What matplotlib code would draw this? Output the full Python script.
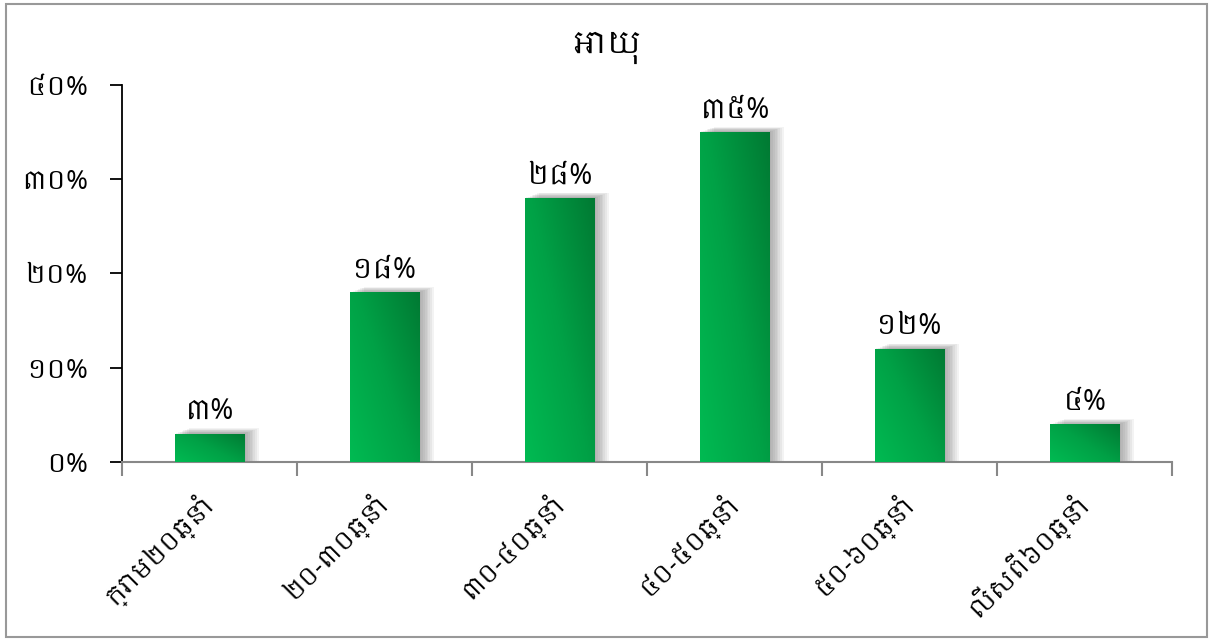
import numpy as np
import matplotlib
matplotlib.use("Agg")
import matplotlib.pyplot as plt
from matplotlib import font_manager
from matplotlib.patches import Rectangle
import matplotlib.colors as mcolors

categories = ["ក្រោម២០ឆ្នាំ", "២០-៣០ឆ្នាំ", "៣០-៤០ឆ្នាំ", "៤០-៥០ឆ្នាំ", "៥០-៦០ឆ្នាំ", "លើសពី៦០ឆ្នាំ"]
values = [3, 18, 28, 35, 12, 4]
value_labels = ["៣%", "១៨%", "២៨%", "៣៥%", "១២%", "៤%"]
yticks = [0, 10, 20, 30, 40]
ytick_labels = ["០%", "១០%", "២០%", "៣០%", "៤០%"]
title = "អាយុ"

# pick any installed Khmer font, fall back to DejaVu
khmer = [f.name for f in font_manager.fontManager.ttflist if "khmer" in f.name.lower()]
families = list(dict.fromkeys(khmer)) + ["DejaVu Sans"]
plt.rcParams["font.family"] = families

fig = plt.figure(figsize=(12.13, 6.41), dpi=100)
ax = fig.add_axes([0.1006, 0.2793, 0.8656, 0.5881])

x = np.arange(len(categories))
width = 0.4

# soft shadow: stacked translucent gray bars
for k in range(1, 9):
    ax.bar(x + 0.01 * k, np.array(values) + 0.07 * k, width=width, color="#555555",
           alpha=0.07, zorder=1, linewidth=0)

bars = ax.bar(x, values, width=width, color="#00A84C", zorder=2, linewidth=0)

# diagonal gradient fill clipped to each bar
cmap = mcolors.LinearSegmentedColormap.from_list("g", ["#00BA52", "#00A146", "#007A33"])
gx, gy = np.meshgrid(np.linspace(0, 1, 50), np.linspace(0, 1, 50))
grad = 0.55 * gx + 0.45 * gy
for b in bars:
    im = ax.imshow(grad, cmap=cmap, origin="lower", aspect="auto", zorder=3,
                   extent=(b.get_x(), b.get_x() + b.get_width(), 0, b.get_height()))
    im.set_clip_path(b)

for xi, v, lab in zip(x, values, value_labels):
    ax.text(xi, v + 0.9, lab, ha="center", va="bottom", fontsize=20, zorder=4)

ax.set_xlim(-0.5, len(categories) - 0.5)
ax.set_ylim(0, 40)
ax.set_yticks(yticks)
ax.set_yticklabels(ytick_labels, fontsize=19)
ax.set_xticks(x)
ax.set_xticklabels(categories, rotation=45, ha="right", va="center",
                   rotation_mode="anchor", fontsize=18)
ax.tick_params(axis="x", length=0, pad=26)
ax.set_xticks(np.arange(-0.5, len(categories)), minor=True)
ax.tick_params(axis="x", which="minor", length=10, color="#888888", width=1.5)
ax.tick_params(axis="y", length=8.5, width=1.3, pad=16)

for s in ["top", "right"]:
    ax.spines[s].set_visible(False)
ax.spines["left"].set_linewidth(1.3)
ax.spines["bottom"].set_color("#888888")
ax.spines["bottom"].set_linewidth(1.5)

fig.text(0.5, 0.925, title, ha="center", va="center", fontsize=22, fontweight="bold")

fig.patches.append(Rectangle((0.005, 0.006), 0.99, 0.988, transform=fig.transFigure,
                             fill=False, edgecolor="#999999", linewidth=1.5))

fig.savefig("out.png", dpi=100)
